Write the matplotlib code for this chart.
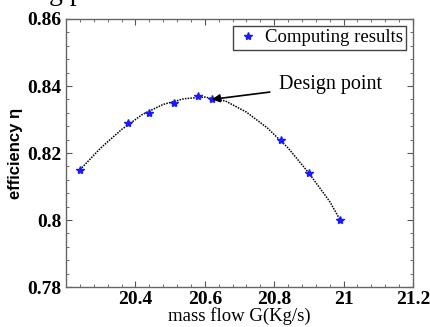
import matplotlib
matplotlib.use("Agg")
import matplotlib.pyplot as plt
from matplotlib.ticker import MultipleLocator

# computed points
mass_flow = [20.24, 20.38, 20.44, 20.51, 20.58, 20.62, 20.82, 20.90, 20.99]
efficiency = [0.815, 0.829, 0.832, 0.835, 0.837, 0.836, 0.824, 0.814, 0.800]

# dotted fit curve
curve_x = [20.24, 20.30, 20.36, 20.42, 20.48, 20.54, 20.60, 20.66, 20.72,
           20.78, 20.84, 20.90, 20.96, 20.99]
curve_y = [0.815, 0.8215, 0.8270, 0.8315, 0.8345, 0.8362, 0.8367, 0.8355,
           0.8322, 0.8275, 0.8215, 0.8140, 0.8055, 0.8000]

design_x, design_y = 20.62, 0.836

plt.rcParams['font.family'] = ['Liberation Serif', 'DejaVu Serif']

fig = plt.figure(figsize=(4.3, 3.27), dpi=100)
ax = fig.add_axes([0.1535, 0.1223, 0.807, 0.8196])

ax.plot(curve_x, curve_y, color='black', linestyle=(0, (1, 0.8)), linewidth=1.1)
ax.plot(mass_flow, efficiency, linestyle='none', marker='*', color='#1a1aff',
        markersize=6, label='Computing results')

ax.annotate('Design point', xy=(design_x, design_y), xytext=(20.815, 0.8405),
            fontsize=14.5, va='center',
            arrowprops=dict(arrowstyle='-|>', color='black', lw=1.2,
                            shrinkA=5, shrinkB=0, mutation_scale=12))

ax.set_xlim(20.2, 21.2)
ax.set_ylim(0.78, 0.86)
ax.set_xticks([20.4, 20.6, 20.8, 21.0, 21.2])
ax.set_xticklabels(['20.4', '20.6', '20.8', '21', '21.2'])
ax.set_yticks([0.78, 0.80, 0.82, 0.84, 0.86])
ax.set_yticklabels(['0.78', '0.8', '0.82', '0.84', '0.86'])
ax.xaxis.set_minor_locator(MultipleLocator(0.04))
ax.yaxis.set_minor_locator(MultipleLocator(0.004))
ax.tick_params(which='both', direction='in', top=True, right=True,
               color='#555555')
ax.tick_params(which='major', length=4, labelsize=14, pad=3)
ax.tick_params(which='minor', length=2)
for lbl in ax.get_xticklabels() + ax.get_yticklabels():
    lbl.set_fontweight('bold')
for s in ax.spines.values():
    s.set_color('#666666')
    s.set_linewidth(1.0)

ax.set_xlabel('mass flow G(Kg/s)', fontsize=13.5, labelpad=-1)
ax.set_ylabel('efficiency η', fontsize=12, fontweight='bold',
              family=['Liberation Sans', 'DejaVu Sans'])
ax.yaxis.set_label_coords(-0.125, 0.5)

leg = ax.legend(loc='upper right', fontsize=13.5, handletextpad=0.3,
                handlelength=1.2, borderpad=0.2, fancybox=False,
                framealpha=1, edgecolor='#444444', borderaxespad=0.35)

# caption remnant cut off at the top edge
fig.text(0.115, 1.02, 'g p', fontsize=20, va='center')

fig.savefig('out.png', dpi=100)
